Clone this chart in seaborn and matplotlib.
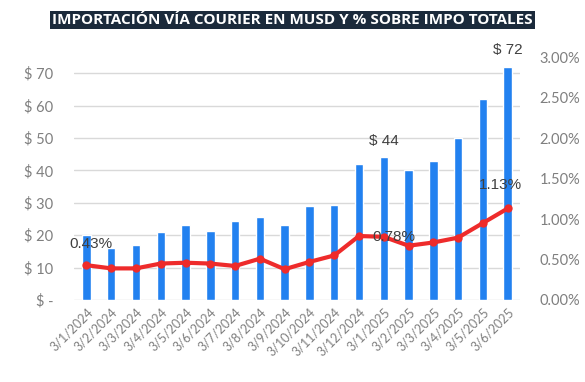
import numpy as np
import pandas as pd
import matplotlib
matplotlib.use("Agg")
import matplotlib.pyplot as plt
import seaborn as sns

fechas = ['3/1/2024', '3/2/2024', '3/3/2024', '3/4/2024', '3/5/2024', '3/6/2024',
          '3/7/2024', '3/8/2024', '3/9/2024', '3/10/2024', '3/11/2024', '3/12/2024',
          '3/1/2025', '3/2/2025', '3/3/2025', '3/4/2025', '3/5/2025', '3/6/2025']
musd = [20, 16, 17, 21, 23, 21.2, 24.5, 25.5, 23, 29, 29.2, 42, 44, 40, 43, 50, 62, 72]
pct_impo = [0.43, 0.39, 0.39, 0.45, 0.46, 0.45, 0.42, 0.51, 0.38, 0.47, 0.55,
            0.79, 0.78, 0.67, 0.71, 0.77, 0.95, 1.13]
ticks_usd = [0, 10, 20, 30, 40, 50, 60, 70]
ticks_pct = [0, 0.5, 1.0, 1.5, 2.0, 2.5, 3.0]

df = pd.DataFrame({'fecha': fechas, 'musd': musd, 'pct': pct_impo})

sns.set_style("white")
plt.rcParams['font.family'] = ['Lato', 'DejaVu Sans']

azul = '#2281f0'
rojo = '#ee2b2b'
gris = '#7f7f7f'

fig = plt.figure(figsize=(5.85, 3.82), dpi=100)
ax = fig.add_axes([0.1265, 0.2147, 0.7625, 0.636])

sns.barplot(data=df, x='fecha', y='musd', color=azul, width=0.34, ax=ax,
            saturation=1)
ax.set_ylim(0, 75)
ax.set_xlim(-0.5, len(fechas) - 0.5)
ax.set_yticks(ticks_usd)
ax.set_yticklabels(['$ -' if t == 0 else f'$ {t}' for t in ticks_usd],
                   color=gris, fontsize=10.5)
ax.yaxis.grid(True, color='#d9d9d9', linewidth=1)
ax.set_axisbelow(True)
ax.set_xlabel('')
ax.set_ylabel('')
ax.tick_params(axis='x', length=0, pad=4)
ax.tick_params(axis='y', length=0, pad=15)
ax.set_xticks(range(len(fechas)))
ax.set_xticklabels(fechas, rotation=45, ha='right', rotation_mode='anchor',
                   color=gris, fontsize=9)
for s in ax.spines.values():
    s.set_visible(False)

ax2 = ax.twinx()
sns.lineplot(x=np.arange(len(fechas)), y=pct_impo, ax=ax2, color=rojo,
             linewidth=3, marker='o', markersize=6, markeredgewidth=0)
ax2.set_ylim(0, 3.0)
ax2.set_yticks(ticks_pct)
ax2.set_yticklabels([f'{t:.2f}%' for t in ticks_pct], color=gris, fontsize=10.5)
ax2.tick_params(axis='y', length=0, pad=14)
ax2.set_ylabel('')
for s in ax2.spines.values():
    s.set_visible(False)

# etiquetas de datos
lbl = dict(color='#404040', fontsize=11, family=['Liberation Sans', 'DejaVu Sans'])
ax.text(12, musd[12] + 3, f'$ {musd[12]:.0f}', ha='center', va='bottom', **lbl)
ax.text(17, musd[17] + 3, f'$ {musd[17]:.0f}', ha='center', va='bottom', **lbl)
ax2.text(0.2, pct_impo[0] + 0.18, f'{pct_impo[0]:.2f}%', ha='center', va='bottom', **lbl)
ax2.text(12 + 0.4, pct_impo[12], f'{pct_impo[12]:.2f}%', ha='center', va='center', **lbl)
ax2.text(17 - 0.3, pct_impo[17] + 0.2, f'{pct_impo[17]:.2f}%', ha='center', va='bottom', **lbl)

fig.text(0.5, 0.947, 'IMPORTACIÓN VÍA COURIER EN MUSD Y % SOBRE IMPO TOTALES',
         ha='center', va='center', color='white', fontsize=11, fontweight='bold',
         family=['Open Sans', 'DejaVu Sans'],
         bbox=dict(boxstyle='square,pad=0.12', facecolor='#1b2a3b', edgecolor='none'))

fig.savefig('out.png', dpi=100)
